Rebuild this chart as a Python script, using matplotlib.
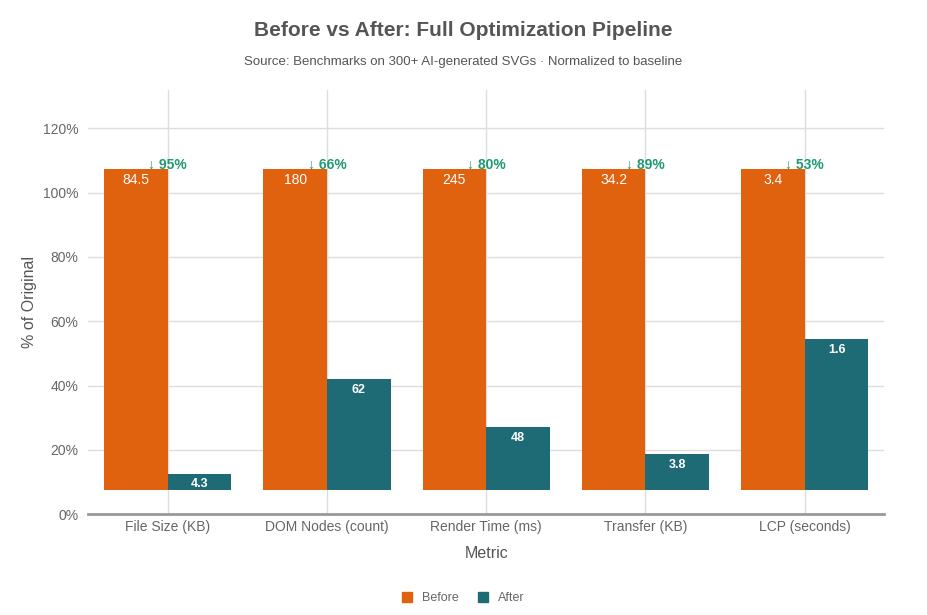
import numpy as np
import matplotlib
matplotlib.use('Agg')
import matplotlib.pyplot as plt
from matplotlib.patches import Patch

plt.rcParams['font.family'] = ['Liberation Sans', 'DejaVu Sans']

# data
metrics = ['File Size (KB)', 'DOM Nodes (count)', 'Render Time (ms)', 'Transfer (KB)', 'LCP (seconds)']
before = [84.5, 180, 245, 34.2, 3.4]
after = [4.3, 62, 48, 3.8, 1.6]
before_lbl = ['84.5', '180', '245', '34.2', '3.4']
after_lbl = ['4.3', '62', '48', '3.8', '1.6']
reduction = ['↓ 95%', '↓ 66%', '↓ 80%', '↓ 89%', '↓ 53%']

ORANGE = '#e0610e'
TEAL = '#1f6b75'
GREEN = '#1f9a72'
GREY = '#555555'

# bars are drawn sitting on a small offset, like the source
base = 7.5

before_pct = [100.0 for b in before]
after_pct = [a / b * 100 for a, b in zip(after, before)]

fig = plt.figure(figsize=(9.27, 6.15), dpi=100)
ax = fig.add_axes([0.095, 0.164, 0.859, 0.69])

x = np.arange(len(metrics))
w = 0.4
ax.bar(x - w / 2, before_pct, w, bottom=base, color=ORANGE, zorder=3)
ax.bar(x + w / 2, after_pct, w, bottom=base, color=TEAL, zorder=3)

for i in range(len(metrics)):
	top_b = base + before_pct[i]
	top_a = base + after_pct[i]
	ax.text(x[i] - w / 2, top_b - 1.3, before_lbl[i], ha='center', va='top',
		color='white', fontsize=10, zorder=4)
	ax.text(x[i] + w / 2, top_a - 1.5, after_lbl[i], ha='center', va='top',
		color='white', fontsize=9, fontweight='bold', zorder=4)
	ax.text(x[i], top_b + 1.2, reduction[i], ha='center', va='center',
		color=GREEN, fontsize=10, fontweight='bold', zorder=4)

ax.set_xlim(-0.5, len(metrics) - 0.5)
ax.set_ylim(0, 132)
ax.set_yticks(np.arange(0, 121, 20))
ax.set_yticklabels(['{}%'.format(v) for v in range(0, 121, 20)])
ax.set_xticks(x)
ax.set_xticklabels(metrics)

ax.grid(True, color='#dddddd', linewidth=1, zorder=0)
ax.set_axisbelow(True)
for s in ['top', 'right', 'left']:
	ax.spines[s].set_visible(False)
ax.spines['bottom'].set_color('#999999')
ax.spines['bottom'].set_linewidth(2)
ax.tick_params(axis='y', length=0, labelsize=10, colors='#666666', pad=7)
ax.tick_params(axis='x', length=0, labelsize=10, colors='#666666', pad=4)

ax.set_xlabel('Metric', fontsize=11.5, color=GREY, labelpad=9)
ax.set_ylabel('% of Original', fontsize=11.5, color=GREY, labelpad=4)

fig.text(0.5, 0.951, 'Before vs After: Full Optimization Pipeline', ha='center', va='center',
	fontsize=15, fontweight='bold', color=GREY)
fig.text(0.5, 0.899, 'Source: Benchmarks on 300+ AI-generated SVGs · Normalized to baseline',
	ha='center', va='center', fontsize=9.5, color=GREY)

handles = [Patch(color=ORANGE, label='Before'), Patch(color=TEAL, label='After')]
fig.legend(handles=handles, loc='center', bbox_to_anchor=(0.5, 0.027), ncol=2, frameon=False,
	fontsize=9, handlelength=0.8, handleheight=0.8, columnspacing=1.5, labelcolor='#666666')

fig.savefig('out.png', dpi=100)
